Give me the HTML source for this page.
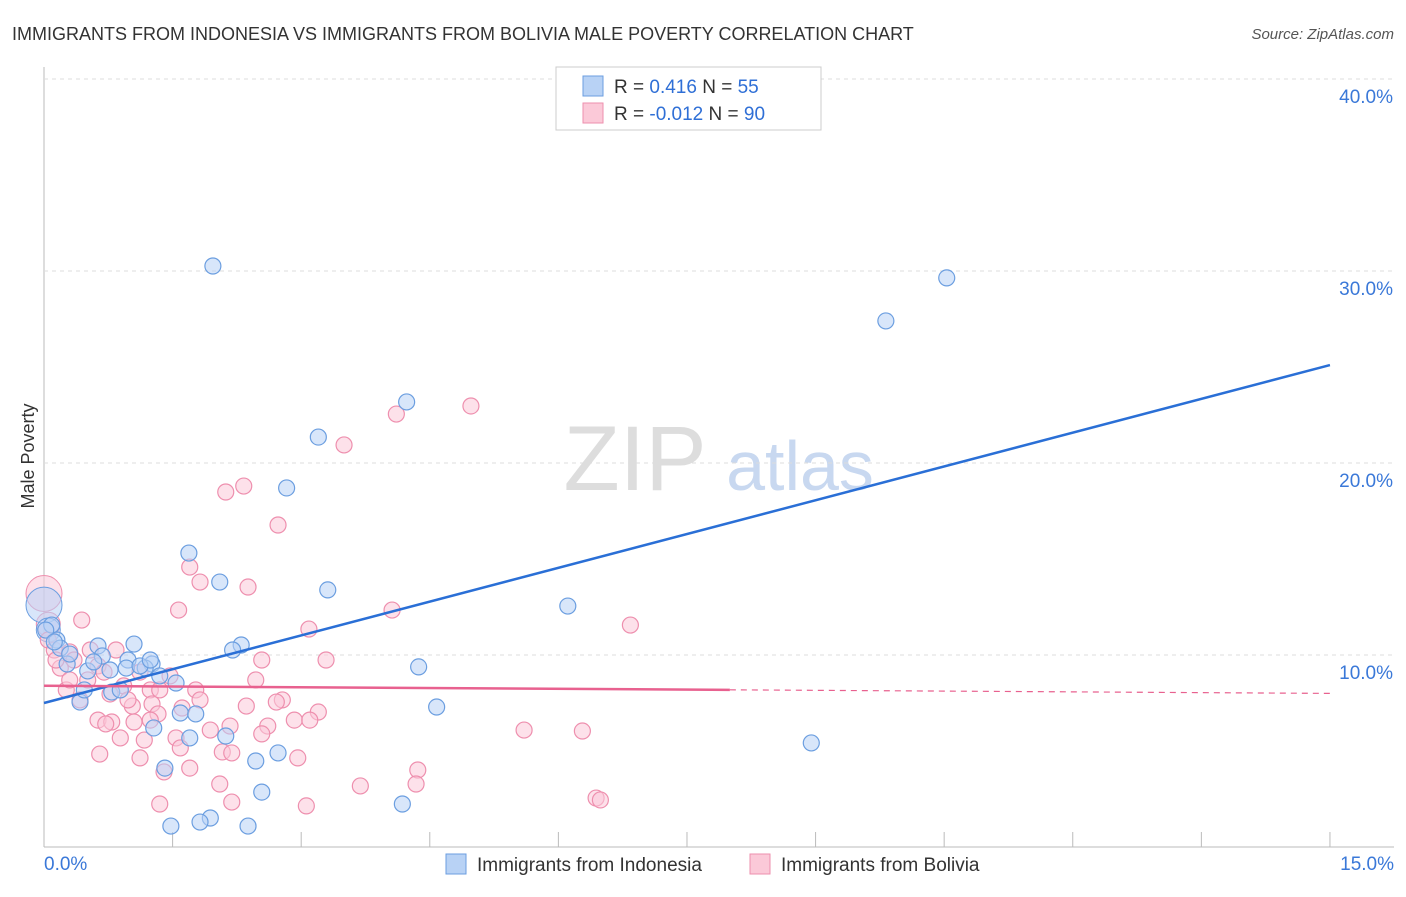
<!DOCTYPE html>
<html><head><meta charset="utf-8"><style>
body{margin:0;background:#fff;font-family:"Liberation Sans",sans-serif}
svg text{font-family:"Liberation Sans",sans-serif}
</style></head><body>
<svg id="c" width="1406" height="892">
<text x="12" y="40" font-size="18" fill="#333">IMMIGRANTS FROM INDONESIA VS IMMIGRANTS FROM BOLIVIA MALE POVERTY CORRELATION CHART</text>
<text x="1394" y="39" font-size="15" fill="#555" font-style="italic" text-anchor="end">Source: ZipAtlas.com</text>
<text x="34" y="456" font-size="18" fill="#333" text-anchor="middle" transform="rotate(-90 34 456)">Male Poverty</text>
<g><text x="635" y="490" font-size="92" font-family="Liberation Serif" fill="#ddd" text-anchor="middle">ZIP</text><text x="800" y="490" font-size="70" fill="#c8d8f0" text-anchor="middle">atlas</text></g>
<g id="grid"></g><g id="marks"></g>
<g>
<rect x="556" y="67" width="265" height="63" fill="#fff" stroke="#ccc"/>
<rect x="583" y="76" width="20" height="20" fill="#b8d2f5" stroke="#6b9ee0"/>
<rect x="583" y="103" width="20" height="20" fill="#fbc9d8" stroke="#ee8fae"/>
<text x="614" y="93" font-size="19" fill="#333">R =  <tspan fill="#2f6fd6">0.416</tspan>   N = <tspan fill="#2f6fd6">55</tspan></text>
<text x="614" y="120" font-size="19" fill="#333">R = <tspan fill="#2f6fd6">-0.012</tspan>   N = <tspan fill="#2f6fd6">90</tspan></text>
</g>
<g>
<rect x="446" y="854" width="20" height="20" fill="#b8d2f5" stroke="#6b9ee0"/>
<text x="477" y="871" font-size="19" fill="#333">Immigrants from Indonesia</text>
<rect x="750" y="854" width="20" height="20" fill="#fbc9d8" stroke="#ee8fae"/>
<text x="781" y="871" font-size="19" fill="#333">Immigrants from Bolivia</text>
</g>
</svg>
<script>
const yTicks=[10,20,30,40];
const yTickLabels=["10.0%","20.0%","30.0%","40.0%"];
const xTickLabels=["0.0%","15.0%"];
const indonesiaPx=[[213,266],[947,278],[886,321],[407,402],[318,437],[287,488],[189,553],[220,582],[328,590],[568,606],[134,644],[241,645],[233,650],[98,646],[57,640],[52,625],[102,656],[128,660],[152,664],[145,668],[126,668],[160,676],[176,683],[419,667],[67,664],[88,671],[112,692],[80,702],[180,713],[196,714],[437,707],[154,728],[190,738],[226,736],[278,753],[256,761],[811,743],[165,768],[262,792],[402,804],[210,818],[200,822],[171,826],[248,826],[60,648],[70,654],[94,662],[110,670],[140,666],[120,690],[84,690],[46,630],[54,642],[150,660]];
const boliviaPx=[[471,406],[396,414],[344,445],[244,486],[226,492],[278,525],[190,567],[200,582],[248,587],[179,610],[392,610],[82,620],[630,625],[309,629],[48,640],[54,650],[70,652],[90,650],[116,650],[262,660],[326,660],[98,666],[60,668],[74,660],[104,672],[140,672],[170,676],[150,690],[196,690],[124,686],[256,680],[66,690],[110,694],[80,700],[282,700],[276,702],[318,712],[152,704],[132,706],[182,708],[158,714],[98,720],[112,722],[106,724],[134,722],[150,720],[230,726],[210,730],[294,720],[310,720],[268,726],[524,730],[582,731],[120,738],[144,740],[176,738],[262,734],[180,748],[222,752],[232,753],[100,754],[140,758],[298,758],[418,770],[190,768],[164,772],[220,784],[360,786],[416,784],[232,802],[160,804],[306,806],[596,798],[600,800],[70,680],[88,680],[56,660],[128,700],[200,700],[246,706],[160,690]];
// convert read positions to data values
const indonesiaX=indonesiaPx.map(p=>+((p[0]-44)/85.73).toFixed(2)), indonesiaY=indonesiaPx.map(p=>+((847-p[1])/19.2).toFixed(2));
const boliviaX=boliviaPx.map(p=>+((p[0]-44)/85.73).toFixed(2)), boliviaY=boliviaPx.map(p=>+((847-p[1])/19.2).toFixed(2));
const bigIndonesia=[[0,12.6,18],[0.05,11.3,12]], bigBolivia=[[0,13.2,18],[0.05,11.6,12]];
const trendIndo=[7.5,25.1], trendBol=[8.4,8.0];
const X=v=>44+v*85.73, Y=v=>847-v*19.2;
const ns="http://www.w3.org/2000/svg";
function mk(t,a,p){const e=document.createElementNS(ns,t);for(const k in a)e.setAttribute(k,a[k]);p.appendChild(e);return e;}
const g=document.getElementById('grid'), m=document.getElementById('marks');
mk('line',{x1:44,y1:67,x2:44,y2:847,stroke:'#bbb'},g);
mk('line',{x1:44,y1:847,x2:1394,y2:847,stroke:'#bbb'},g);
for(let i=0;i<=10;i++){const l=mk('line',{x1:X(i*1.5),x2:X(i*1.5),y1:847,y2:i==0?847:832,stroke:'#bbb'},g);}
yTicks.forEach((v,i)=>{const l=mk('line',{x1:44,x2:1394,y1:Y(v),y2:Y(v),stroke:'#ddd','stroke-dasharray':'4,4'},g);
const t=mk('text',{x:1393,y:Y(v)+24,'font-size':19,fill:'#3a78d8','text-anchor':'end'},g);t.textContent=yTickLabels[i];});
[[44,'start'],[1394,'end']].forEach((a,i)=>{const t=mk('text',{x:a[0],y:870,'font-size':19,fill:'#3a78d8','text-anchor':a[1]},g);t.textContent=xTickLabels[i];});
function pts(xs,ys,fill,stroke,name){xs.forEach((x,i)=>{const c=mk('circle',{cx:X(x),cy:Y(ys[i]),r:8,fill:fill,'fill-opacity':0.55,stroke:stroke,'stroke-width':1.2},m);});}
bigBolivia.forEach(b=>{const c=mk('circle',{cx:X(b[0]),cy:Y(b[1]),r:b[2],fill:'#fbc9d8','fill-opacity':0.55,stroke:'#ee8fae'},m);});
bigIndonesia.forEach(b=>{const c=mk('circle',{cx:X(b[0]),cy:Y(b[1]),r:b[2],fill:'#b8d2f5','fill-opacity':0.55,stroke:'#6b9ee0'},m);});
pts(boliviaX,boliviaY,'#fbc9d8','#ee8fae','bolivia-point');
pts(indonesiaX,indonesiaY,'#b8d2f5','#6b9ee0','indonesia-point');
let l=mk('line',{x1:X(0),y1:Y(trendIndo[0]),x2:X(15),y2:Y(trendIndo[1]),stroke:'#2a6fd6','stroke-width':2.5},m);

const yb=x=>trendBol[0]+(trendBol[1]-trendBol[0])*x/15;
l=mk('line',{x1:X(0),y1:Y(yb(0)),x2:X(8),y2:Y(yb(8)),stroke:'#e8618f','stroke-width':2.5},m);

l=mk('line',{x1:X(8),y1:Y(yb(8)),x2:X(15),y2:Y(yb(15)),stroke:'#e8618f','stroke-width':1.2,'stroke-dasharray':'6,5'},m);

</script>
</body></html>
